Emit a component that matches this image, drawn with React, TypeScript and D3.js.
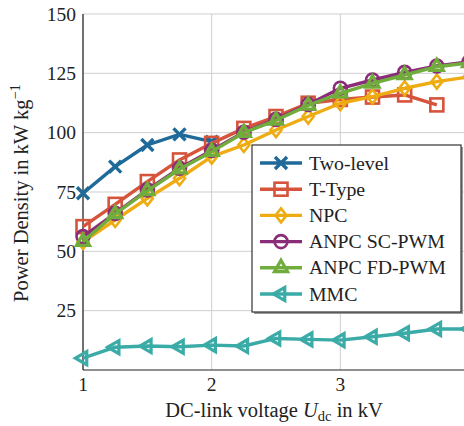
import React from "react";
import * as d3 from "d3";

const xVals = [1, 1.25, 1.5, 1.75, 2, 2.25, 2.5, 2.75, 3, 3.25, 3.5, 3.75, 4];
const twoLevel = [74.5, 85.7, 94.8, 99.3, 96.2];
const tType = [60.4, 69.8, 79.4, 88.5, 95.5, 101.8, 106.8, 112.4, 114, 115, 115.9, 111.7];
const npc = [54, 63.2, 72.3, 80.8, 89.9, 94.8, 101.1, 106.8, 112.4, 115.2, 118.7, 121.5, 123.5];
const anpcSC = [56.2, 66, 75.9, 85, 92.5, 100.2, 105.6, 111.9, 118.7, 122.2, 125.4, 128.1, 129.8];
const anpcFD = [54.1, 65.8, 75.5, 84.6, 92, 100, 105.2, 111.5, 116.6, 120.8, 124.3, 127.8, 129.4];
const mmc = [5, 9.6, 10.1, 9.8, 10.5, 10.1, 13.3, 12.9, 12.6, 14, 15.5, 17.3, 17.3];

const seriesNames = ["Two-level", "T-Type", "NPC", "ANPC SC-PWM", "ANPC FD-PWM", "MMC"];
const seriesData = [twoLevel, tType, npc, anpcSC, anpcFD, mmc];
const colors = ["#1f6a98", "#d5543b", "#eeac12", "#8a2d78", "#70ad3c", "#3aaba7"];
const markers = ["cross", "square", "diamond", "circle", "triangle", "triangleLeft"];

const yTicks = [25, 50, 75, 100, 125, 150];
const xTicks = [1, 2, 3, 4];
const xTickLabels = [1, 2, 3];

const W = 464;
const H = 426;
const FONT = "'Liberation Serif', 'DejaVu Serif', serif";

function Marker({ type, x, y, color }: { type: string; x: number; y: number; color: string }) {
  const sw = 2.6;
  const common = { fill: "none", stroke: color, strokeWidth: sw, strokeLinejoin: "miter" as const };
  switch (type) {
    case "cross": {
      const r = 6;
      return (
        <path
          d={`M${x - r},${y - r}L${x + r},${y + r}M${x - r},${y + r}L${x + r},${y - r}`}
          stroke={color}
          strokeWidth={3.4}
          fill="none"
        />
      );
    }
    case "square": {
      const r = 6.5;
      return <rect x={x - r} y={y - r} width={2 * r} height={2 * r} {...common} />;
    }
    case "diamond": {
      const rx = 5.5, ry = 7;
      return <path d={`M${x},${y - ry}L${x + rx},${y}L${x},${y + ry}L${x - rx},${y}Z`} {...common} />;
    }
    case "circle":
      return <circle cx={x} cy={y} r={6.5} {...common} />;
    case "triangle": {
      const r = 7.5;
      return (
        <path
          d={`M${x},${y - r}L${x + r * 0.87},${y + r * 0.5}L${x - r * 0.87},${y + r * 0.5}Z`}
          {...common}
          strokeWidth={3.2}
        />
      );
    }
    case "triangleLeft": {
      const r = 7.5;
      return (
        <path
          d={`M${x - r},${y}L${x + r * 0.5},${y - r * 0.87}L${x + r * 0.5},${y + r * 0.87}Z`}
          {...common}
          strokeWidth={3.2}
        />
      );
    }
    default:
      return null;
  }
}

export default function App() {
  const x = d3.scaleLinear().domain([1, 4]).range([83, 469]);
  const y = d3.scaleLinear().domain([0, 150]).range([370, 14]);

  const line = d3
    .line<[number, number]>()
    .x((d) => x(d[0]))
    .y((d) => y(d[1]));

  const legX = 252;
  const legY = 145;
  const legW = 209;
  const legH = 167;
  const rowY = (i: number) => legY + 18 + i * 26.2;

  return (
    <svg
      width={W}
      height={H}
      style={{ position: "absolute", left: 0, top: 0, background: "#fff" }}
      fontFamily={FONT}
    >
      <rect x={0} y={0} width={W} height={H} fill="#fff" />
      {/* grid */}
      {yTicks.map((t) => (
        <line key={"gy" + t} x1={83} x2={W} y1={y(t)} y2={y(t)} stroke="#cfcfcf" strokeWidth={1} />
      ))}
      {xTicks.map((t) => (
        <line key={"gx" + t} x1={x(t)} x2={x(t)} y1={y(150)} y2={y(0)} stroke="#cfcfcf" strokeWidth={1} />
      ))}
      {/* axes */}
      <line x1={83} x2={83} y1={y(150)} y2={y(0)} stroke="#222" strokeWidth={1.2} />
      <line x1={83} x2={W} y1={y(0)} y2={y(0)} stroke="#222" strokeWidth={1.2} />
      {/* tick labels */}
      {yTicks.map((t) => (
        <text key={"ty" + t} x={76} y={y(t) + 6.5} textAnchor="end" fontSize={19.5} fill="#222">
          {t}
        </text>
      ))}
      {xTickLabels.map((t) => (
        <text key={"tx" + t} x={x(t)} y={391} textAnchor="middle" fontSize={19.5} fill="#222">
          {t}
        </text>
      ))}
      {/* axis titles */}
      <text
        transform={`translate(28,${193}) rotate(-90)`}
        textAnchor="middle"
        fontSize={20.5}
        fill="#222"
      >
        Power Density in kW kg
        <tspan dy={-8} fontSize={14.5}>
          −1
        </tspan>
      </text>
      <text x={274} y={417} textAnchor="middle" fontSize={20.5} fill="#222">
        DC-link voltage <tspan fontStyle="italic">U</tspan>
        <tspan dy={4} fontSize={14.5}>
          dc
        </tspan>
        <tspan dy={-4}> in kV</tspan>
      </text>
      {/* series */}
      {seriesData.map((vals, si) => {
        const pts: [number, number][] = vals.map((v, i) => [xVals[i], v]);
        return (
          <g key={"s" + si}>
            <path d={line(pts) || ""} fill="none" stroke={colors[si]} strokeWidth={3.4} strokeLinejoin="round" />
            {pts.map((p, i) => (
              <Marker key={i} type={markers[si]} x={x(p[0])} y={y(p[1])} color={colors[si]} />
            ))}
          </g>
        );
      })}
      {/* legend */}
      <rect x={legX + 2} y={legY + 2} width={legW} height={legH} fill="#9a9a9a" />
      <rect x={legX} y={legY} width={legW} height={legH} fill="#fff" stroke="#333" strokeWidth={1.2} />
      {seriesNames.map((n, i) => (
        <g key={"l" + i}>
          <line x1={legX + 8} x2={legX + 50} y1={rowY(i)} y2={rowY(i)} stroke={colors[i]} strokeWidth={3.4} />
          <Marker type={markers[i]} x={legX + 29} y={rowY(i)} color={colors[i]} />
          <text x={legX + 57} y={rowY(i) + 6.5} fontSize={19.8} fill="#222">
            {n}
          </text>
        </g>
      ))}
    </svg>
  );
}
